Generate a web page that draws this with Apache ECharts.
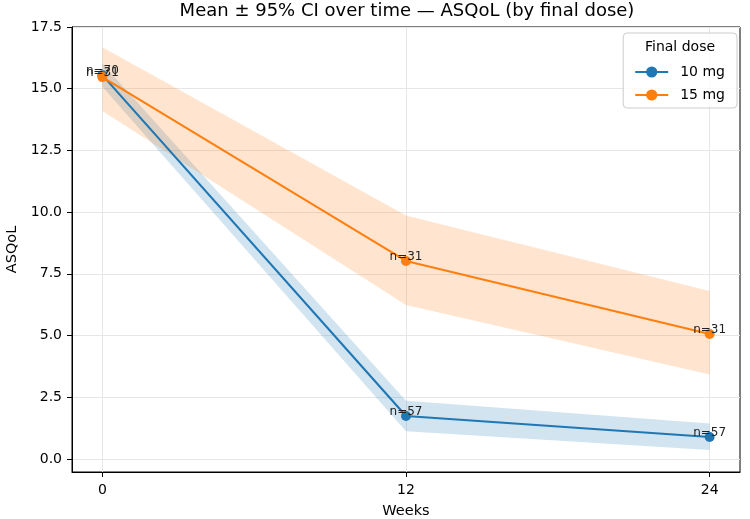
<!DOCTYPE html>
<html>
<head>
<meta charset="utf-8">
<script src="https://cdn.jsdelivr.net/npm/echarts@6/dist/echarts.min.js"></script>
<style>html,body{margin:0;padding:0;background:#fff}#c{width:750px;height:519px}</style>
</head>
<body>
<div id="c"></div>
<script>
const weeks = [0, 12, 24];
const mean10 = [15.55, 1.74, 0.89];
const lo10 = [15.08, 1.12, 0.36];
const hi10 = [16.02, 2.36, 1.44];
const n10 = [70, 57, 57];
const mean15 = [15.47, 8.02, 5.06];
const lo15 = [14.1, 6.24, 3.42];
const hi15 = [16.68, 9.86, 6.8];
const n15 = [31, 31, 31];
const xTicks = [0, 12, 24];
const yTicks = [0, 2.5, 5, 7.5, 10, 12.5, 15, 17.5];

const FONT = 'DejaVu Sans';
const C10 = '#1f77b4', C15 = '#ff7f0e';

function pts(arr) { return weeks.map((w, i) => [w, arr[i]]); }

function bandSeries(name, lo, hi, color) {
  return {
    type: 'custom', name: name, silent: true, z: 1,
    data: weeks.map((w, i) => [w, lo[i], hi[i]]),
    encode: { x: 0, y: [1, 2] },
    renderItem: function (params, api) {
      if (params.dataIndex !== 0) return null;
      const upper = weeks.map((w, i) => api.coord([w, hi[i]]));
      const lower = weeks.map((w, i) => api.coord([w, lo[i]])).reverse();
      return {
        type: 'polygon',
        shape: { points: upper.concat(lower) },
        style: { fill: color, stroke: 'none' }
      };
    }
  };
}

function lineSeries(name, mean, ns, color) {
  return {
    type: 'line', name: name, data: pts(mean).map((p, i) => ({ value: p, n: ns[i] })),
    symbol: 'circle', symbolSize: 10, z: 5,
    itemStyle: { color: color },
    lineStyle: { color: color, width: 2.1 },
    label: { show: true, position: 'top', distance: -7, fontFamily: FONT, fontSize: 12, color: '#222',
      formatter: p => 'n=' + p.data.n }
  };
}

const chart = echarts.init(document.getElementById('c'), null, { renderer: 'canvas' });
chart.setOption({
  animation: false,
  backgroundColor: '#fff',
  textStyle: { fontFamily: FONT },
  grid: { left: 72, right: 10, top: 27, bottom: 47, containLabel: false, outerBoundsMode: 'none',
    show: true, borderColor: '#000', borderWidth: 1, backgroundColor: 'transparent' },
  xAxis: {
    type: 'value', min: -1.2, max: 25.2,
    name: 'Weeks', nameLocation: 'middle', nameGap: 32,
    nameTextStyle: { fontFamily: FONT, fontSize: 14.5, color: '#000' },
    axisLine: { show: true, onZero: false, lineStyle: { color: '#000', width: 1 } },
    axisTick: { show: true, length: 5, lineStyle: { color: '#000' }, customValues: xTicks },
    axisLabel: { fontFamily: FONT, fontSize: 14, color: '#000', margin: 11, customValues: xTicks },
    splitLine: { show: true, lineStyle: { color: '#e6e6e6', width: 1 } }
  },
  yAxis: {
    type: 'value', min: -0.53, max: 17.5,
    name: 'ASQoL', nameLocation: 'middle', nameGap: 46,
    nameTextStyle: { fontFamily: FONT, fontSize: 14.5, color: '#000' },
    axisLine: { show: true, onZero: false, lineStyle: { color: '#000', width: 1 } },
    axisTick: { show: true, length: 5, lineStyle: { color: '#000' }, customValues: yTicks },
    axisLabel: { fontFamily: FONT, fontSize: 14, color: '#000', margin: 10, customValues: yTicks,
      formatter: v => v.toFixed(1) },
    splitLine: { show: true, lineStyle: { color: '#e6e6e6', width: 1 } }
  },
  legend: {
    data: ['10 mg', '15 mg'],
    orient: 'vertical', right: 13, top: 33,
    padding: [32, 12, 6, 11], itemGap: 9, itemWidth: 33, itemHeight: 14,
    borderColor: '#cccccc', borderWidth: 1, borderRadius: 4, backgroundColor: 'rgba(255,255,255,0.8)',
    textStyle: { fontFamily: FONT, fontSize: 14, color: '#000', padding: [0, 0, 0, 7] }
  },
  graphic: [
    { type: 'text', x: 407, y: 2, style: { text: 'Mean ± 95% CI over time — ASQoL (by final dose)', fontFamily: FONT, fontSize: 18, fill: '#000', textAlign: 'center' }, z: 10 },
    { type: 'text', x: 680, y: 40, style: { text: 'Final dose', fontFamily: FONT, fontSize: 14, fill: '#000', textAlign: 'center' }, z: 100 }
  ],
  series: [
    bandSeries('b10', lo10, hi10, 'rgba(31,119,180,0.2)'),
    bandSeries('b15', lo15, hi15, 'rgba(255,127,14,0.2)'),
    lineSeries('10 mg', mean10, n10, C10),
    lineSeries('15 mg', mean15, n15, C15)
  ]
});
</script>
</body>
</html>
